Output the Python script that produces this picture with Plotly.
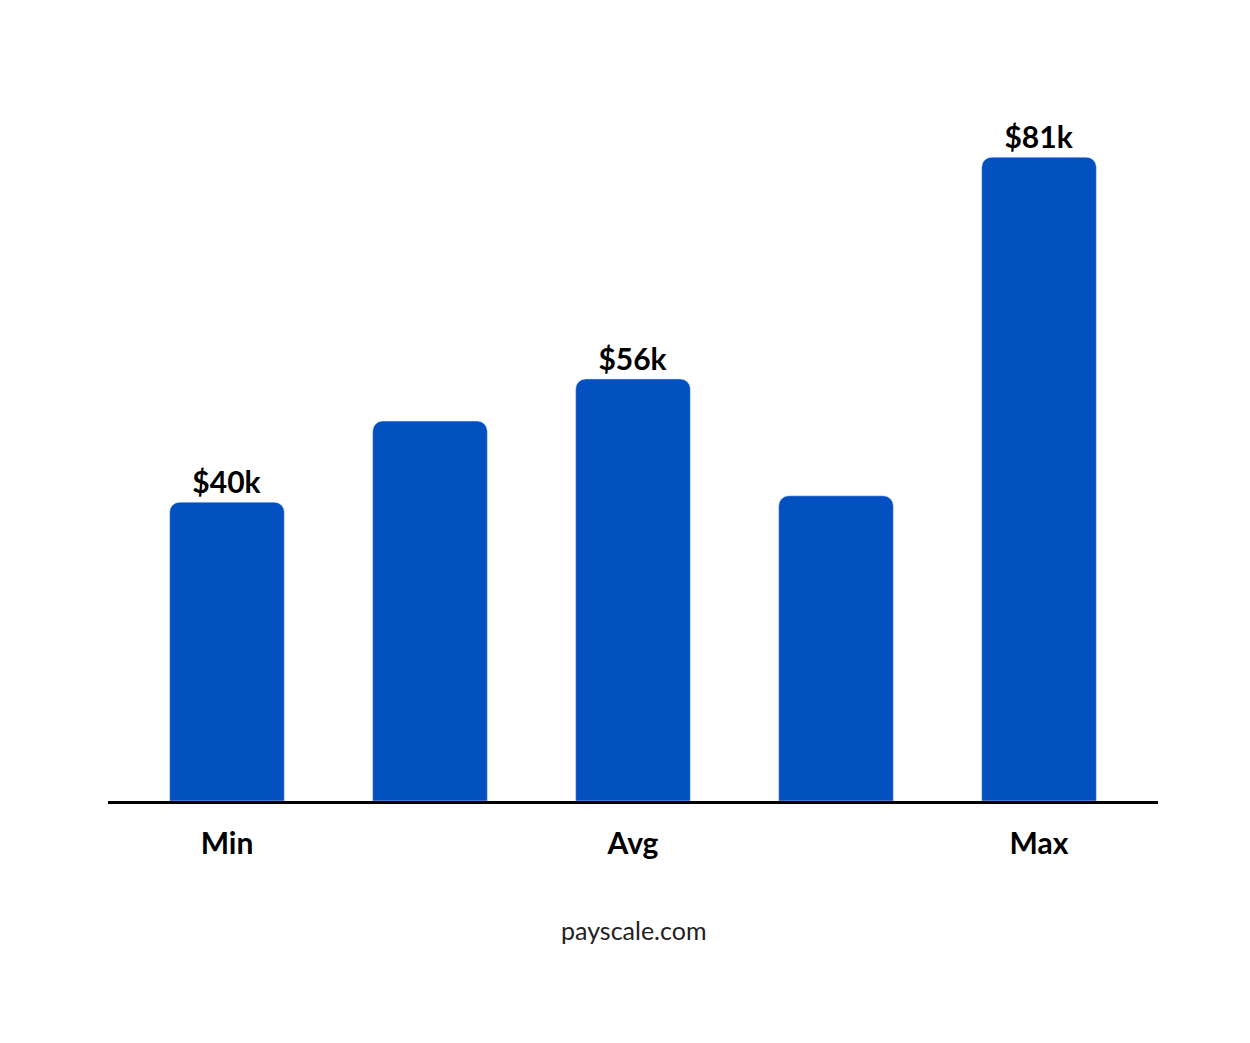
import plotly.graph_objects as go

# bar heights (in $k on the drawn scale)
positions = [0, 1, 2, 3, 4]
heights = [37.6, 47.8, 53.1, 38.4, 81.0]
bar_labels = ["$40k", "", "$56k", "", "$81k"]
tick_pos = [0, 2, 4]
tick_text = ["Min", "Avg", "Max"]

fig = go.Figure()
fig.add_trace(go.Bar(
    x=positions, y=heights, text=bar_labels, textposition="outside",
    marker=dict(color="#0351C1", cornerradius=10),
    textfont=dict(family="Lato", size=30, color="#000000", weight="bold"),
    cliponaxis=False, hoverinfo="skip",
))
fig.update_layout(
    width=1250, height=1043, paper_bgcolor="white", plot_bgcolor="white",
    margin=dict(l=100, r=100, t=80, b=250), bargap=0.435, showlegend=False,
    annotations=[dict(text="payscale.com", x=0.5, xref="paper", y=922, yref="paper",
                      showarrow=False, font=dict(family="Lato", size=25, color="#222"))],
)
# place annotation in pixel space via yshift from bottom of plot
fig.layout.annotations[0].update(y=0, yanchor="top", yshift=-112)
fig.update_xaxes(range=[-0.586, 4.586], tickvals=tick_pos, ticktext=tick_text,
                 showline=True, linecolor="black", linewidth=3, showgrid=False, ticks="",
                 tickfont=dict(family="Lato", size=30, color="black", weight="bold"), ticklabelstandoff=14)
fig.update_yaxes(range=[0, 89.7], visible=False)
fig.write_html("out.html")
